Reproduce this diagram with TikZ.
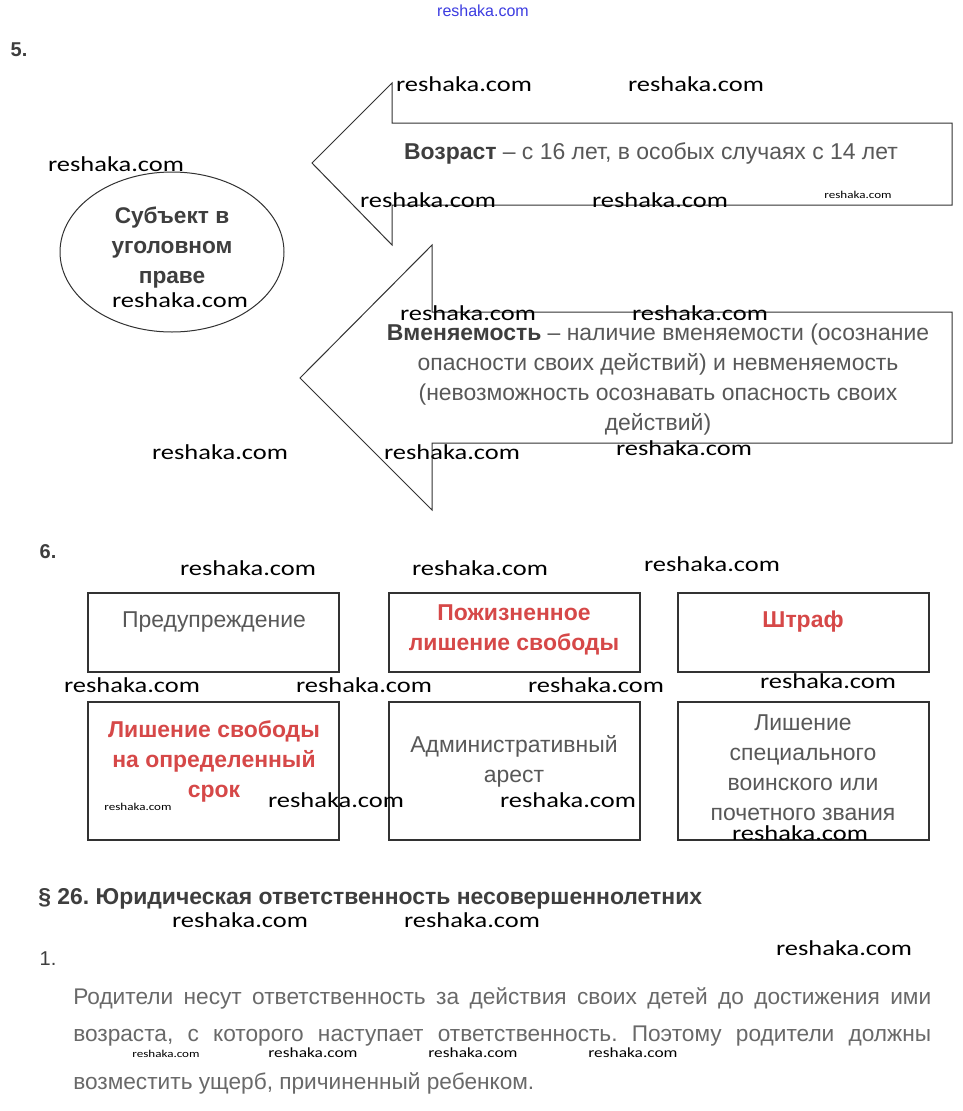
\documentclass[tikz,border=0pt]{standalone}
\usepackage{fontspec}
\usepackage{graphicx}
\setmainfont{Liberation Sans}
\newfontfamily\wmfont{Carlito}
\usetikzlibrary{shapes.geometric}
\frenchspacing
\definecolor{txtgray}{RGB}{88,88,88}
\definecolor{boldgray}{RGB}{62,62,62}
\definecolor{parcol}{RGB}{105,105,105}
\definecolor{redtxt}{RGB}{214,72,72}
\definecolor{linecol}{RGB}{50,50,50}
\definecolor{linkblue}{RGB}{60,60,225}
\newcommand\wmbig{\wmfont\fontsize{16}{16}\selectfont\scalebox{1.24}[1]{reshaka.com}}
\newcommand\wmmid{\wmfont\fontsize{10.5}{11}\selectfont\scalebox{1.24}[1]{reshaka.com}}
\newcommand\wmsmall{\wmfont\fontsize{7.9}{8}\selectfont\scalebox{1.24}[1]{reshaka.com}}
\begin{document}
\begin{tikzpicture}[x=0.75pt,y=-0.75pt,
  txt/.style={font=\fontsize{17.2}{22.5}\selectfont, text=txtgray, align=center, inner sep=0pt},
  redt/.style={font=\bfseries\fontsize{17.2}{22.5}\selectfont, text=redtxt, align=center, inner sep=0pt},
  num/.style={font=\bfseries\fontsize{15}{16}\selectfont, text=boldgray, inner sep=0pt},
  para/.style={font=\fontsize{17}{22.5}\selectfont, text=parcol, inner sep=0pt, anchor=west},
  arrowshape/.style={draw=linecol, line width=0.75pt, line join=miter},
  boxone/.style={draw=linecol, line width=1.5pt, minimum width=188.25pt, minimum height=59.25pt, inner sep=0pt},
  boxtwo/.style={draw=linecol, line width=1.5pt, minimum width=188.25pt, minimum height=103.5pt, inner sep=0pt},
  wm/.style={inner sep=0pt, text=black}
]
\useasboundingbox (0,0) rectangle (963,1111);
\fill[white] (0,0) rectangle (963,1111);

% top link
\node[inner sep=0pt, text=linkblue, font=\fontsize{12}{12}\selectfont] (link) at (483,11) {reshaka.com};

% section 5
\node[num] (n5) at (19,50) {5.};

% upper arrow
\coordinate (a1tip) at (312,163);
\coordinate (a1ht) at (392,83);
\coordinate (a1hb) at (392,245);
\draw[arrowshape] (a1tip) -- (a1ht) -- (392,123) -- (952,123) -- (952,205) -- (392,205) -- (a1hb) -- cycle;
\node[txt] (age) at (651,153) {\textbf{\color{boldgray}Возраст} – с 16 лет, в особых случаях с 14 лет};

% lower arrow
\coordinate (a2tip) at (300,378);
\coordinate (a2ht) at (432,245);
\coordinate (a2hb) at (432,510);
\draw[arrowshape] (a2tip) -- (a2ht) -- (432,312) -- (952,312) -- (952,443) -- (432,443) -- (a2hb) -- cycle;
\node[txt] (sanity) at (658,380) {\textbf{\color{boldgray}Вменяемость} – наличие вменяемости (осознание\\опасности своих действий) и невменяемость\\(невозможность осознавать опасность своих\\действий)};

% ellipse
\node[ellipse, draw=linecol, line width=0.75pt, minimum width=168pt, minimum height=120pt, inner sep=0pt] (subj) at (172,252) {};
\node[font=\bfseries\fontsize{17}{22.5}\selectfont, text=boldgray, align=center, inner sep=0pt] (subjt) at (172,248) {Субъект в\\уголовном\\праве};

% section 6
\node[num] (n6) at (48,552) {6.};

\node[boxone] (b1) at (213.5,632.5) {};
\node[boxone] (b2) at (514.5,632.5) {};
\node[boxone] (b3) at (803.5,632.5) {};
\node[boxtwo] (b4) at (213.5,771) {};
\node[boxtwo] (b5) at (514.5,771) {};
\node[boxtwo] (b6) at (803.5,771) {};

\node[txt] (t1) at (214,622) {Предупреждение};
\node[redt] (t2) at (514,630) {Пожизненное\\лишение свободы};
\node[redt] (t3) at (803,622) {Штраф};
\node[redt] (t4) at (214,761) {Лишение свободы\\на определенный\\срок};
\node[txt] (t5) at (514,761) {Административный\\арест};
\node[txt] (t6) at (803,768) {Лишение\\специального\\воинского или\\почетного звания};

% section 26
\node[font=\bfseries\fontsize{17.2}{18}\selectfont, text=boldgray, inner sep=0pt, anchor=west] (p26) at (38,899) {§ 26. Юридическая ответственность несовершеннолетних};
\node[font=\fontsize{15}{16}\selectfont, text=boldgray, inner sep=0pt] (n1) at (48,959) {1.};
\node[para] (l1) at (73,998) {\makebox[643.5pt][s]{Родители несут ответственность за действия своих детей до достижения ими}};
\node[para] (l2) at (73,1036) {\makebox[643.5pt][s]{возраста, с которого наступает ответственность. Поэтому родители должны}};
\node[para] (l3) at (73,1083) {возместить ущерб, причиненный ребенком.};

% watermarks
\node[wm] (w1) at (464,84) {\wmbig};
\node[wm] (w2) at (696,84) {\wmbig};
\node[wm] (w3) at (116,164) {\wmbig};
\node[wm] (w4) at (428,200) {\wmbig};
\node[wm] (w5) at (660,200) {\wmbig};
\node[wm] (w6) at (858,195) {\wmsmall};
\node[wm] (w7) at (180,300) {\wmbig};
\node[wm] (w8) at (468,313) {\wmbig};
\node[wm] (w9) at (700,313) {\wmbig};
\node[wm] (w10) at (220,452) {\wmbig};
\node[wm] (w11) at (452,452) {\wmbig};
\node[wm] (w12) at (684,448) {\wmbig};
\node[wm] (w13) at (248,568) {\wmbig};
\node[wm] (w14) at (480,568) {\wmbig};
\node[wm] (w15) at (712,564) {\wmbig};
\node[wm] (w16) at (132,685) {\wmbig};
\node[wm] (w17) at (364,685) {\wmbig};
\node[wm] (w18) at (596,685) {\wmbig};
\node[wm] (w19) at (828,681) {\wmbig};
\node[wm] (w20) at (138,807) {\wmsmall};
\node[wm] (w21) at (336,800) {\wmbig};
\node[wm] (w22) at (568,800) {\wmbig};
\node[wm] (w23) at (800,833) {\wmbig};
\node[wm] (w24) at (240,920) {\wmbig};
\node[wm] (w25) at (472,920) {\wmbig};
\node[wm] (w26) at (844,948) {\wmbig};
\node[wm] (w27) at (166,1054) {\wmsmall};
\node[wm] (w28) at (313,1053) {\wmmid};
\node[wm] (w29) at (473,1053) {\wmmid};
\node[wm] (w30) at (633,1053) {\wmmid};
\end{tikzpicture}
\end{document}
